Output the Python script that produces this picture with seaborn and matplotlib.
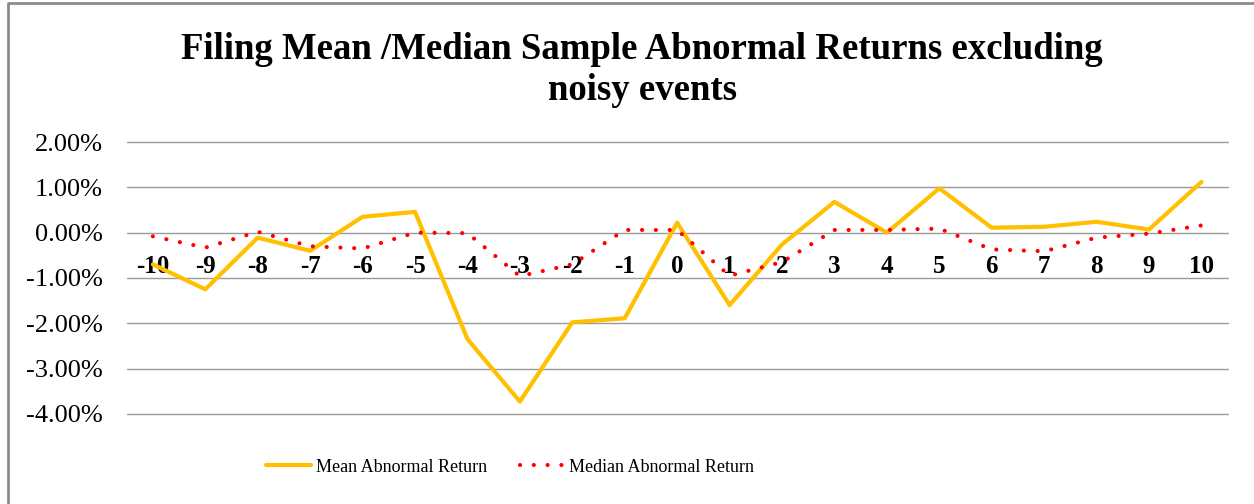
import pandas as pd
import matplotlib
matplotlib.use("Agg")
import matplotlib.pyplot as plt
import seaborn as sns

# Event window days and abnormal returns (in %)
days = [str(d) for d in range(-10, 11)]
mean_ar = [-0.70, -1.25, -0.11, -0.40, 0.35, 0.46, -2.35, -3.73, -1.98, -1.89, 0.22,
           -1.60, -0.26, 0.68, 0.00, 0.98, 0.11, 0.13, 0.24, 0.07, 1.12]
median_ar = [-0.08, -0.33, 0.02, -0.30, -0.35, 0.00, -0.01, -0.96, -0.70, 0.06, 0.06,
             -0.95, -0.65, 0.06, 0.06, 0.09, -0.37, -0.41, -0.11, -0.02, 0.16]
y_ticks = [2, 1, 0, -1, -2, -3, -4]

title = "Filing Mean /Median Sample Abnormal Returns excluding\nnoisy events"

sns.set_style("white")
plt.rcParams["font.family"] = ["Liberation Serif", "DejaVu Serif"]
plt.rcParams["text.color"] = "black"
plt.rcParams["xtick.color"] = "black"
plt.rcParams["ytick.color"] = "black"

df = pd.DataFrame({"day": days, "mean": mean_ar, "median": median_ar})

fig = plt.figure(figsize=(12.54, 5.04), dpi=100)
ax = fig.add_axes([0.101, 0.179, 0.878, 0.539])

sns.lineplot(data=df, x="day", y="mean", ax=ax, color="#FFC000", lw=3,
             sort=False, label="Mean Abnormal Return", zorder=3)
sns.lineplot(data=df, x="day", y="median", ax=ax, color="#FF0000", lw=3.0,
             sort=False, label="Median Abnormal Return", zorder=4,
             linestyle=(0, (0.01, 3.3)), dash_capstyle="round")

ax.set_xlim(-0.5, len(days) - 0.5)
ax.set_ylim(-4, 2)
ax.set_yticks(y_ticks)
ax.set_yticklabels([f"{v:.2f}%" for v in y_ticks], fontsize=19)
ax.grid(axis="y", color="#9a9a9a", lw=1)
for gl in ax.get_ygridlines():
    gl.set_clip_on(False)
ax.set_axisbelow(True)
for s in ["left", "right", "top"]:
    ax.spines[s].set_visible(False)
# x labels sit just under the zero line, like Excel
ax.spines["bottom"].set_position(("data", 0))
ax.spines["bottom"].set_visible(False)
ax.set_xticks(range(len(days)))
ax.set_xticklabels(days, fontsize=18, fontweight="bold")
ax.tick_params(axis="x", length=0, pad=16)
ax.tick_params(axis="y", length=0, pad=17)
ax.set_xlabel("")
ax.set_ylabel("")

ax.legend(loc="center left", bbox_to_anchor=(250 / 1254, 1 - 467 / 504),
          bbox_transform=fig.transFigure, ncol=2, frameon=False, fontsize=13,
          handlelength=2.5, handletextpad=0.25, columnspacing=1.8)

fig.text(0.512, 1 - 70 / 504, title, ha="center", va="center", fontsize=26.5,
         fontweight="bold", linespacing=1.2)

# chart border (left and top edges show in the crop)
fig.add_artist(plt.Line2D([8 / 1254, 8 / 1254, 1.0], [0.0, 1 - 3 / 504, 1 - 3 / 504],
                          transform=fig.transFigure, color="#8c8c8c", lw=2))

fig.savefig("out.png", dpi=100)
